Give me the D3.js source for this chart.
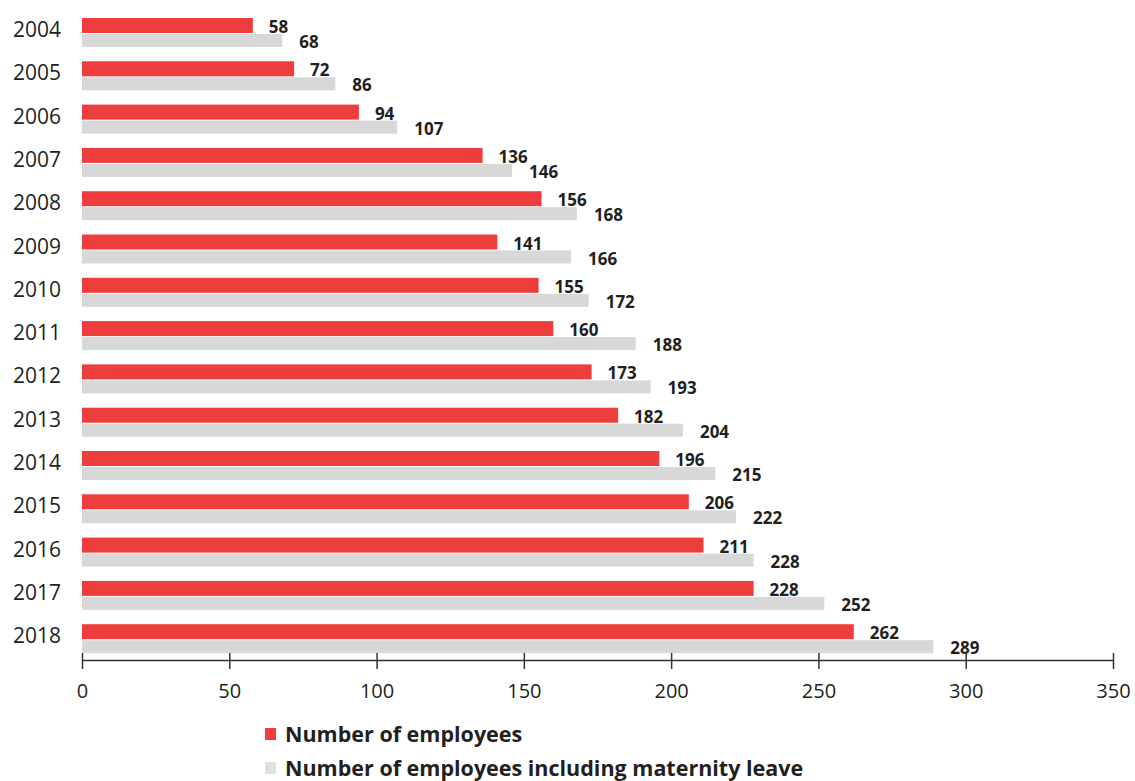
<!DOCTYPE html>
<html>
<head>
<meta charset="utf-8">
<script src="https://cdn.jsdelivr.net/npm/d3@7"></script>
<style>
  body { margin: 0; background: #fff; }
  svg text { font-family: "Open Sans", Lato, sans-serif; fill: #231f20; }
</style>
</head>
<body>
<div id="chart"></div>
<script>
var years = ["2004", "2005", "2006", "2007", "2008", "2009", "2010", "2011",
             "2012", "2013", "2014", "2015", "2016", "2017", "2018"];
var employees = [58, 72, 94, 136, 156, 141, 155, 160, 173, 182, 196, 206, 211, 228, 262];
var withLeave = [68, 86, 107, 146, 168, 166, 172, 188, 193, 204, 215, 222, 228, 252, 289];
var xTicks = [0, 50, 100, 150, 200, 250, 300, 350];
var seriesNames = ["Number of employees", "Number of employees including maternity leave"];

function drawChart() {
  var w = 1135, h = 781;
  var red = "#ee3d3d", grey = "#d8d8d8";

  var svg = d3.select("#chart")
    .append("svg")
    .attr("width", w)
    .attr("height", h);

  var xScale = d3.scaleLinear()
    .domain([0, 350])
    .range([82, 1113]);

  var yScale = d3.scaleBand()
    .domain(years)
    .range([18, 18 + 43.3 * years.length])
    .padding(0);

  var rows = years.map(function (y, i) {
    return { year: y, emp: employees[i], all: withLeave[i] };
  });

  // red bars
  svg.selectAll("rect.emp")
    .data(rows)
    .enter()
    .append("rect")
    .attr("class", "emp")
    .attr("x", xScale(0))
    .attr("y", function (d) { return yScale(d.year); })
    .attr("width", function (d) { return xScale(d.emp) - xScale(0); })
    .attr("height", 15)
    .attr("fill", red);

  // grey bars
  svg.selectAll("rect.all")
    .data(rows)
    .enter()
    .append("rect")
    .attr("class", "all")
    .attr("x", xScale(0))
    .attr("y", function (d) { return yScale(d.year) + 16; })
    .attr("width", function (d) { return xScale(d.all) - xScale(0); })
    .attr("height", 13)
    .attr("fill", grey);

  // value labels
  svg.selectAll("text.lab1")
    .data(rows)
    .enter()
    .append("text")
    .attr("x", function (d) { return xScale(d.emp) + 16; })
    .attr("y", function (d) { return yScale(d.year) + 15; })
    .attr("font-size", 17)
    .attr("font-weight", "bold")
    .text(function (d) { return d.emp; });

  svg.selectAll("text.lab2")
    .data(rows)
    .enter()
    .append("text")
    .attr("x", function (d) { return xScale(d.all) + 17; })
    .attr("y", function (d) { return yScale(d.year) + 30; })
    .attr("font-size", 17)
    .attr("font-weight", "bold")
    .text(function (d) { return d.all; });

  // year labels
  svg.selectAll("text.year")
    .data(years)
    .enter()
    .append("text")
    .attr("x", 61)
    .attr("y", function (d) { return yScale(d) + 19; })
    .attr("text-anchor", "end")
    .attr("font-size", 21)
    .text(function (d) { return d; });

  // x axis
  var xAxis = d3.axisBottom(xScale)
    .tickValues(xTicks)
    .tickSize(0)
    .tickPadding(24);

  var gx = svg.append("g")
    .attr("transform", "translate(0,660)")
    .call(xAxis);
  gx.select(".domain").attr("stroke", "#333").attr("stroke-width", 1.5);
  gx.selectAll(".tick text")
    .attr("font-size", 20)
    .attr("font-family", "'Open Sans', Lato, sans-serif")
    .attr("fill", "#231f20");
  gx.selectAll(".tick").append("line")
    .attr("y1", -7)
    .attr("y2", 9)
    .attr("stroke", "#333")
    .attr("stroke-width", 1.5);

  // legend
  var legend = svg.append("g");
  var legendColors = [red, "#e0e0e0"];
  seriesNames.forEach(function (name, i) {
    legend.append("rect")
      .attr("x", 265)
      .attr("y", 728 + i * 34)
      .attr("width", 11)
      .attr("height", 12)
      .attr("fill", legendColors[i]);
    legend.append("text")
      .attr("x", 285)
      .attr("y", 742 + i * 34)
      .attr("font-size", 21.5)
      .attr("font-weight", "bold")
      .text(name);
  });
}

window.onload = function () {
  drawChart();
};
</script>
</body>
</html>
